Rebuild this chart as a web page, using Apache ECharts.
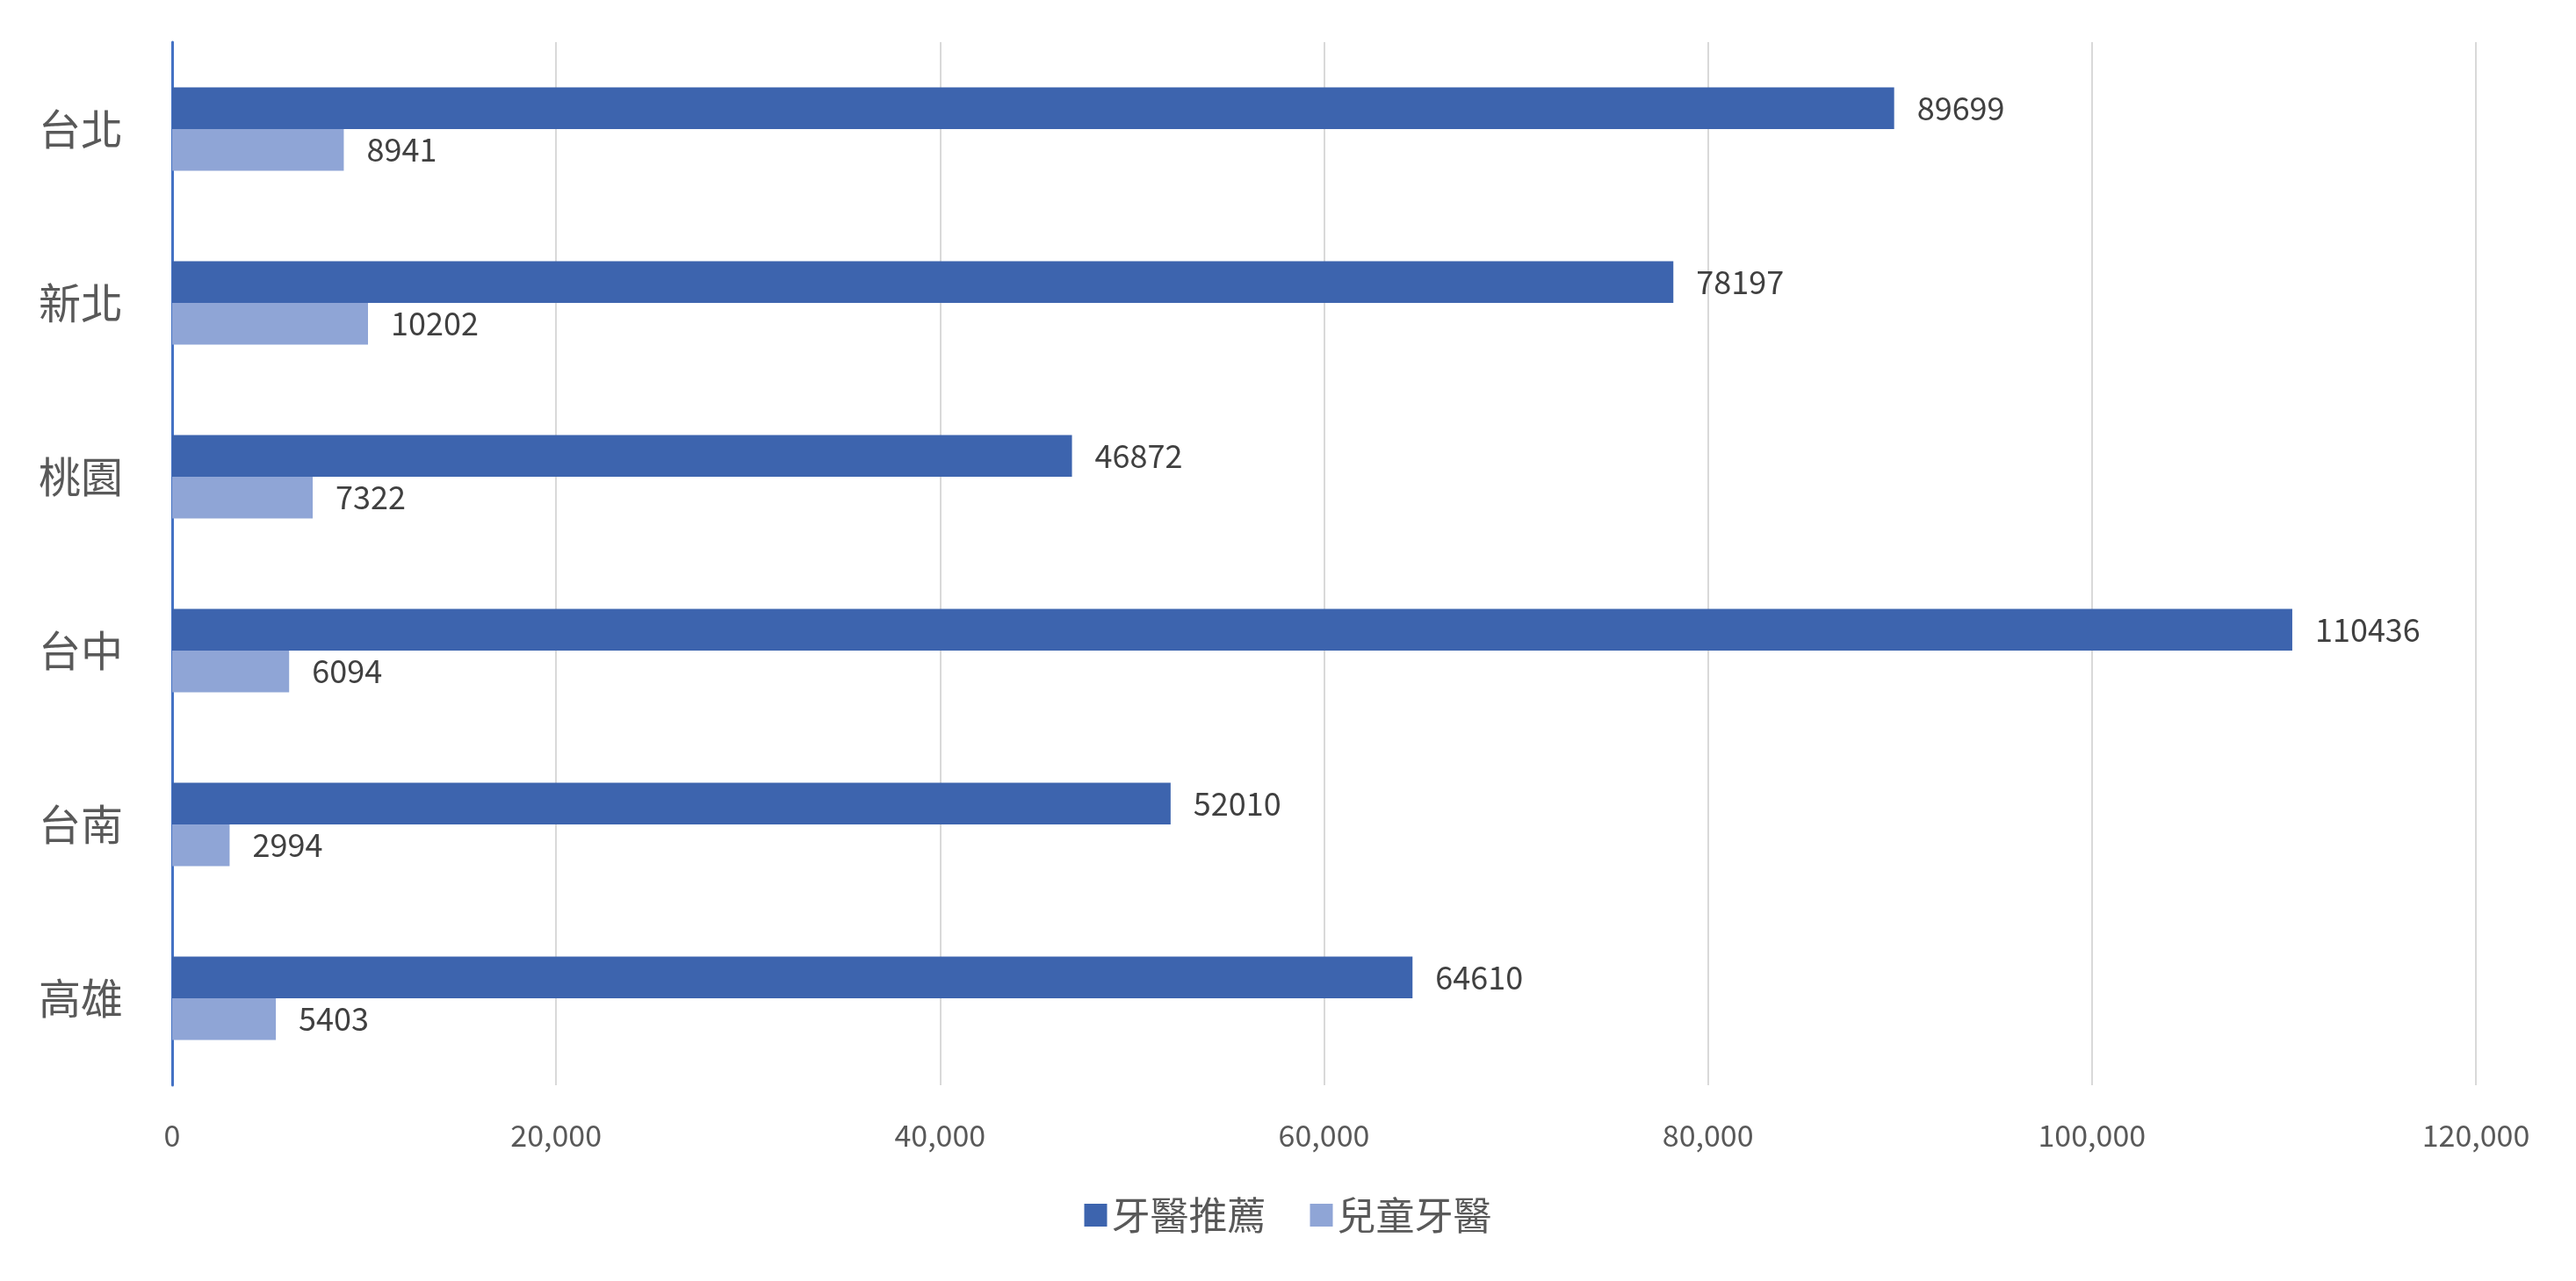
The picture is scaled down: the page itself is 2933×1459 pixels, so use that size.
<!DOCTYPE html><html><head><meta charset="utf-8">
<script src="https://cdn.jsdelivr.net/npm/echarts@6/dist/echarts.min.js"></script>
<style>html,body{margin:0;background:#fff}#c{width:2933px;height:1459px}</style></head><body><div id="c"></div>
<script>
const categories=['台北','新北','桃園','台中','台南','高雄'];
const dentist=[89699,78197,46872,110436,52010,64610];
const kids=[8941,10202,7322,6094,2994,5403];
const F='"Noto Sans CJK TC","Noto Sans",sans-serif';
const lbl={show:true,position:'right',distance:26,fontSize:36,color:'#404040',fontFamily:F};
echarts.init(document.getElementById('c')).setOption({
 animation:false,
 grid:{left:196,right:114,top:48,bottom:223,containLabel:false},
 legend:{bottom:48,left:'center',itemWidth:26,itemHeight:26,itemGap:50,icon:'rect',textStyle:{fontSize:44,color:'#595959',fontFamily:F}},
 xAxis:{type:'value',min:0,max:120000,interval:20000,axisLine:{show:false},axisTick:{show:false},
  splitLine:{lineStyle:{color:'#d9d9d9',width:2}},axisLabel:{fontSize:34,color:'#595959',margin:40,fontFamily:F}},
 yAxis:{type:'category',data:categories,inverse:true,axisTick:{show:false},
  axisLine:{lineStyle:{color:'#4472c4',width:3}},axisLabel:{fontSize:48,color:'#595959',margin:56,fontFamily:F}},
 series:[
  {name:'牙醫推薦',type:'bar',data:dentist,barWidth:'24%',barGap:'0%',itemStyle:{color:'#3d64ae'},label:lbl},
  {name:'兒童牙醫',type:'bar',data:kids,barWidth:'24%',itemStyle:{color:'#8fa5d6'},label:lbl}
 ]
});
</script></body></html>
